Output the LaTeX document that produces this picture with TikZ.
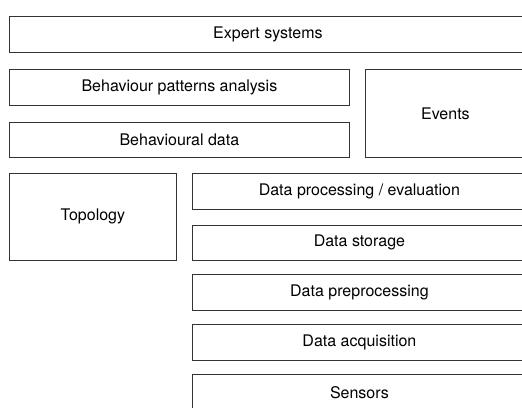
\documentclass[tikz,border=0pt]{standalone}
\usepackage{fontspec}
\setmainfont{TeX Gyre Heros}
\begin{document}
\begin{tikzpicture}[x=1pt,y=-1pt,
    layer/.style={draw=black!80, line width=0.8pt, fill=white, inner sep=0pt,
      anchor=north west, font=\fontsize{16}{19}\selectfont}]
      % marco
      \useasboundingbox (0,0) rectangle (522,407);
      \clip (0,0) rectangle (522,407);

      % capas superiores
      \node[layer, minimum width=517pt, minimum height=36pt] (expert) at (9,16) {Expert systems};
      \node[layer, minimum width=340pt, minimum height=36pt] (patterns) at (9,69) {Behaviour patterns analysis};
      \node[layer, minimum width=340pt, minimum height=35pt] (behdata) at (9,122) {Behavioural data};
      \node[layer, minimum width=160pt, minimum height=88pt] (events) at (365,69) {Events};

      % topologia
      \node[layer, minimum width=167pt, minimum height=87pt] (topology) at (9,173) {Topology};

      % cadena de datos
      \node[layer, minimum width=334pt, minimum height=36pt] (processing) at (192,173) {Data processing / evaluation};
      \node[layer, minimum width=334pt, minimum height=35pt] (storage) at (192,225) {Data storage};
      \node[layer, minimum width=334pt, minimum height=36pt] (preproc) at (192,274) {Data preprocessing};
      \node[layer, minimum width=334pt, minimum height=36pt] (acquisition) at (192,324) {Data acquisition};
      \node[layer, minimum width=334pt, minimum height=37pt] (sensors) at (192,374) {Sensors};

    \end{tikzpicture}
\end{document}
